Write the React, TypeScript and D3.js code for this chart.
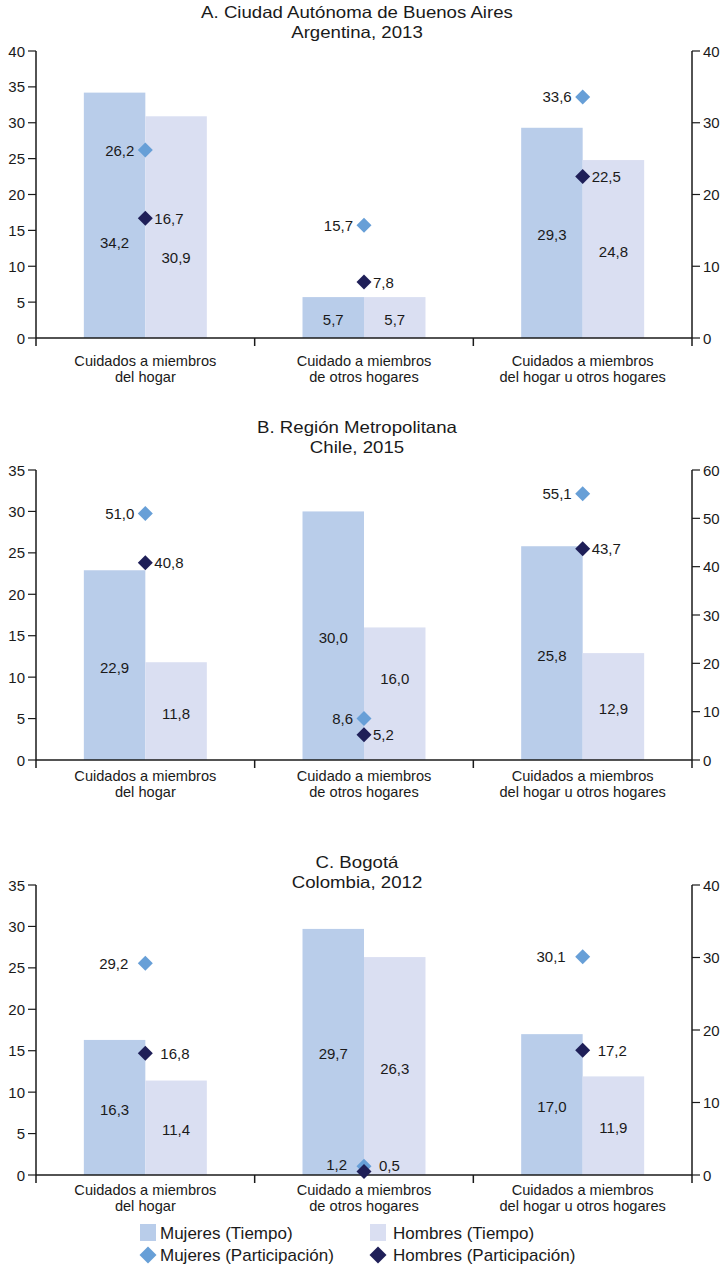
import React from 'react';
import * as d3 from 'd3';

const categories: string[][] = [
  ['Cuidados a miembros', 'del hogar'],
  ['Cuidado a miembros', 'de otros hogares'],
  ['Cuidados a miembros', 'del hogar u otros hogares'],
];

const panelTitles: string[][] = [
  ['A. Ciudad Autónoma de Buenos Aires', 'Argentina, 2013'],
  ['B. Región Metropolitana', 'Chile, 2015'],
  ['C. Bogotá', 'Colombia, 2012'],
];

// Tiempo (left axis)
const argMujeresTiempo = [34.2, 5.7, 29.3];
const argHombresTiempo = [30.9, 5.7, 24.8];
const chiMujeresTiempo = [22.9, 30.0, 25.8];
const chiHombresTiempo = [11.8, 16.0, 12.9];
const colMujeresTiempo = [16.3, 29.7, 17.0];
const colHombresTiempo = [11.4, 26.3, 11.9];

// Participación (right axis)
const argMujeresPart = [26.2, 15.7, 33.6];
const argHombresPart = [16.7, 7.8, 22.5];
const chiMujeresPart = [51.0, 8.6, 55.1];
const chiHombresPart = [40.8, 5.2, 43.7];
const colMujeresPart = [29.2, 1.2, 30.1];
const colHombresPart = [16.8, 0.5, 17.2];

const leftMaxes = [40, 35, 35];
const rightMaxes = [40, 60, 40];

const legendLabels = ['Mujeres (Tiempo)', 'Hombres (Tiempo)', 'Mujeres (Participación)', 'Hombres (Participación)'];

const COLORS = {
  mT: '#b9cdea',
  hT: '#dadff2',
  mP: '#679fd7',
  hP: '#1f1f58',
  axis: '#1a1a1a',
  text: '#1a1a1a',
};

const FONT = 'Liberation Sans, Arial, Helvetica, sans-serif';

// layout (pixels)
const layouts = [
  { t1: 12, t2: 32, top: 51, bottom: 338, catY: 361, gap: 10 },
  { t1: 427, t2: 447, top: 470, bottom: 760, catY: 776, gap: 10 },
  { t1: 862, t2: 882, top: 885, bottom: 1175, catY: 1190, gap: 16 },
];

// pixel nudges for bar value labels that would collide with markers
const labelNudge: Record<string, number> = {
  '0-m-0': 25,
  '0-h-0': 28,
  '1-h-1': -17,
};

const panels = [
  { mT: argMujeresTiempo, hT: argHombresTiempo, mP: argMujeresPart, hP: argHombresPart },
  { mT: chiMujeresTiempo, hT: chiHombresTiempo, mP: chiMujeresPart, hP: chiHombresPart },
  { mT: colMujeresTiempo, hT: colHombresTiempo, mP: colMujeresPart, hP: colHombresPart },
];

const X0 = 36;
const X1 = 692;
const TITLE_X = 357;

const fmt = (v: number) => v.toFixed(1).replace('.', ',');

function diamond(cx: number, cy: number, r: number) {
  return `M${cx},${cy - r}L${cx + r},${cy}L${cx},${cy + r}L${cx - r},${cy}Z`;
}

function Title({ x, y, children }: { x: number; y: number; children: React.ReactNode }) {
  return (
    <g transform={`translate(${x},${y}) scale(1.13,1)`}>
      <text x={0} y={0} textAnchor="middle" dominantBaseline="central" fontSize={16.5} fill={COLORS.text}>{children}</text>
    </g>
  );
}

function Panel({ idx }: { idx: number }) {
  const L = layouts[idx];
  const d = panels[idx];
  const x = d3.scaleBand<number>().domain([0, 1, 2]).range([X0, X1]).paddingInner(0).paddingOuter(0);
  const x1 = d3.scaleBand<string>().domain(['m', 'h']).range([0, x.bandwidth()]).paddingInner(0).paddingOuter(0.778);
  const yL = d3.scaleLinear().domain([0, leftMaxes[idx]]).range([L.bottom, L.top]);
  const yR = d3.scaleLinear().domain([0, rightMaxes[idx]]).range([L.bottom, L.top]);
  const leftTicks = d3.range(0, leftMaxes[idx] + 0.1, 5);
  const rightTicks = d3.range(0, rightMaxes[idx] + 0.1, 10);
  const cx = (i: number) => (x(i) as number) + x.bandwidth() / 2;
  const nudge = (s: string, i: number) => labelNudge[`${idx}-${s}-${i}`] || 0;

  return (
    <g>
      <Title x={TITLE_X} y={L.t1}>{panelTitles[idx][0]}</Title>
      <Title x={TITLE_X} y={L.t2}>{panelTitles[idx][1]}</Title>

      {/* bars */}
      {[0, 1, 2].map((i) => (
        <g key={'b' + i}>
          <rect x={(x(i) as number) + (x1('m') as number)} y={yL(d.mT[i])} width={x1.bandwidth()} height={L.bottom - yL(d.mT[i])} fill={COLORS.mT} />
          <rect x={(x(i) as number) + (x1('h') as number)} y={yL(d.hT[i])} width={x1.bandwidth()} height={L.bottom - yL(d.hT[i])} fill={COLORS.hT} />
          <text x={(x(i) as number) + (x1('m') as number) + x1.bandwidth() / 2} y={(yL(d.mT[i]) + L.bottom) / 2 + 2 + nudge('m', i)} textAnchor="middle" dominantBaseline="central" fontSize={15} fill={COLORS.text}>{fmt(d.mT[i])}</text>
          <text x={(x(i) as number) + (x1('h') as number) + x1.bandwidth() / 2} y={(yL(d.hT[i]) + L.bottom) / 2 + 2 + nudge('h', i)} textAnchor="middle" dominantBaseline="central" fontSize={15} fill={COLORS.text}>{fmt(d.hT[i])}</text>
        </g>
      ))}

      {/* axes */}
      <line x1={X0} x2={X1} y1={L.bottom} y2={L.bottom} stroke={COLORS.axis} strokeWidth={1.5} />
      <line x1={X0} x2={X0} y1={L.top} y2={L.bottom + 8} stroke={COLORS.axis} strokeWidth={1.5} />
      <line x1={X1} x2={X1} y1={L.top} y2={L.bottom + 8} stroke={COLORS.axis} strokeWidth={1.5} />
      {[1, 2].map((i) => (
        <line key={'sep' + i} x1={x(i) as number} x2={x(i) as number} y1={L.bottom} y2={L.bottom + 8} stroke={COLORS.axis} strokeWidth={1.5} />
      ))}
      {leftTicks.map((t) => (
        <g key={'lt' + t}>
          <line x1={X0 - 8} x2={X0} y1={yL(t)} y2={yL(t)} stroke={COLORS.axis} strokeWidth={1.2} />
          <text x={X0 - 11} y={yL(t)} textAnchor="end" dominantBaseline="central" fontSize={15} fill={COLORS.text}>{t}</text>
        </g>
      ))}
      {rightTicks.map((t) => (
        <g key={'rt' + t}>
          <line x1={X1} x2={X1 + 8} y1={yR(t)} y2={yR(t)} stroke={COLORS.axis} strokeWidth={1.2} />
          <text x={X1 + 11} y={yR(t)} textAnchor="start" dominantBaseline="central" fontSize={15} fill={COLORS.text}>{t}</text>
        </g>
      ))}

      {/* category labels */}
      {[0, 1, 2].map((i) => (
        <g key={'c' + i}>
          <text x={cx(i)} y={L.catY} textAnchor="middle" dominantBaseline="central" fontSize={14.6} fill={COLORS.text}>{categories[i][0]}</text>
          <text x={cx(i)} y={L.catY + 16} textAnchor="middle" dominantBaseline="central" fontSize={14.6} fill={COLORS.text}>{categories[i][1]}</text>
        </g>
      ))}

      {/* participation markers */}
      {[0, 1, 2].map((i) => (
        <g key={'p' + i}>
          <path d={diamond(cx(i), yR(d.mP[i]), 7.5)} fill={COLORS.mP} />
          <text x={cx(i) - L.gap - 1} y={yR(d.mP[i]) - (d.mP[i] < 3 ? 2 : 0)} textAnchor="end" dominantBaseline="central" fontSize={15} fill={COLORS.text}>{fmt(d.mP[i])}</text>
          <path d={diamond(cx(i), yR(d.hP[i]), 7.5)} fill={COLORS.hP} />
          <text x={cx(i) + L.gap - 1} y={yR(d.hP[i]) - (d.hP[i] < 3 ? 6 : 0)} textAnchor="start" dominantBaseline="central" fontSize={15} fill={COLORS.text}>{fmt(d.hP[i])}</text>
        </g>
      ))}
    </g>
  );
}

export default function App() {
  return (
    <svg width={721} height={1265} style={{ position: 'absolute', left: 0, top: 0, background: '#fff' }} fontFamily={FONT}>
      <rect width={721} height={1265} fill="#fff" />
      {[0, 1, 2].map((i) => <Panel key={i} idx={i} />)}
      {/* legend */}
      <g>
        <rect x={140} y={1224} width={16} height={17} fill={COLORS.mT} />
        <text x={160} y={1233} dominantBaseline="central" fontSize={17} fill={COLORS.text}>{legendLabels[0]}</text>
        <rect x={370} y={1224} width={16} height={17} fill={COLORS.hT} />
        <text x={393} y={1233} dominantBaseline="central" fontSize={17} fill={COLORS.text}>{legendLabels[1]}</text>
        <path d={diamond(148, 1255, 8.5)} fill={COLORS.mP} />
        <text x={160} y={1255} dominantBaseline="central" fontSize={17} fill={COLORS.text}>{legendLabels[2]}</text>
        <path d={diamond(378, 1255, 8.5)} fill={COLORS.hP} />
        <text x={393} y={1255} dominantBaseline="central" fontSize={17} fill={COLORS.text}>{legendLabels[3]}</text>
      </g>
    </svg>
  );
}
